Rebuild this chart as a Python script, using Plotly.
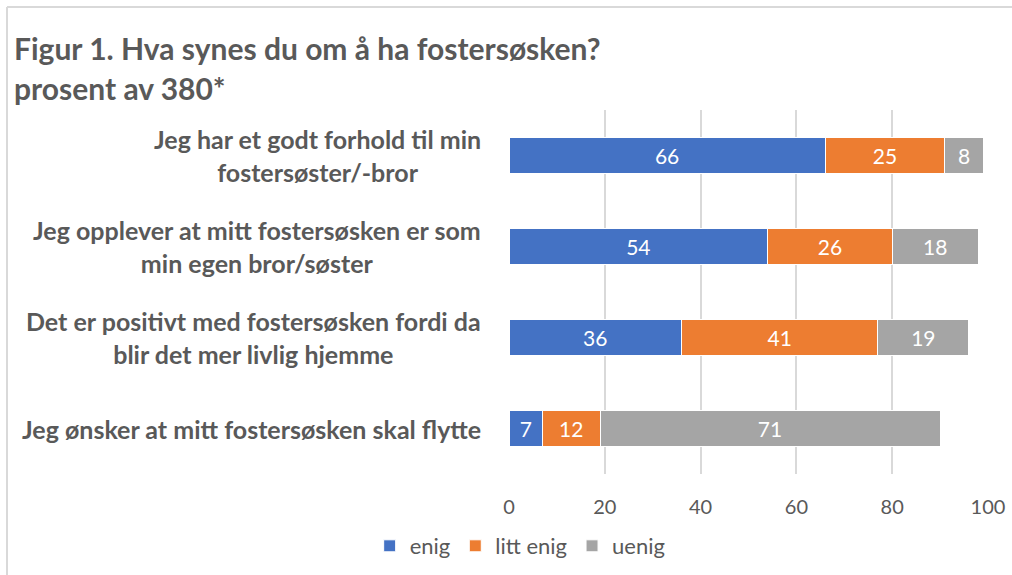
import plotly.graph_objects as go

categories = [
    "Jeg har et godt forhold til min<br>fostersøster/-bror",
    "Jeg opplever at mitt fostersøsken er som<br>min egen bror/søster",
    "Det er positivt med fostersøsken fordi da<br>blir det mer livlig hjemme",
    "Jeg ønsker at mitt fostersøsken skal flytte",
]
enig = [66, 54, 36, 7]
litt_enig = [25, 26, 41, 12]
uenig = [8, 18, 19, 71]
series_names = ["enig", "litt enig", "uenig"]
colors = ["#4472C4", "#ED7D31", "#A5A5A5"]
x_ticks = [0, 20, 40, 60, 80, 100]
title_lines = ["Figur 1. Hva synes du om å ha fostersøsken?", "prosent av 380*"]

FONT = "Lato"
TXT = "#595959"

# plot-area geometry in pixels
W, H = 1012, 575
L, R, T, B = 509, 24, 110, 101
pw, ph = W - L - R, H - T - B


def px_x(x):
    return (x - L) / pw


def px_y(y):
    return (H - B - y) / ph


fig = go.Figure()
for name, vals, col in zip(series_names, [enig, litt_enig, uenig], colors):
    fig.add_trace(go.Bar(
        y=categories, x=vals, name=name, orientation="h",
        marker=dict(color=col, line=dict(color="#ffffff", width=1)),
        text=vals, texttemplate="%{text}", textposition="inside",
        insidetextanchor="middle", textangle=0, constraintext="none",
        textfont=dict(family=FONT, size=21, color="#ffffff"),
        hoverinfo="skip",
    ))

annotations = []
for cat in categories:
    annotations.append(dict(
        x=px_x(483), xref="paper", y=cat, yref="y",
        text=cat, showarrow=False, xanchor="right", yanchor="middle",
        align="center", font=dict(family=FONT, size=25, color=TXT, weight="bold"),
    ))
for line, ypix in zip(title_lines, [48, 88]):
    annotations.append(dict(
        x=px_x(12), xref="paper", y=px_y(ypix), yref="paper",
        text=line, showarrow=False, xanchor="left", yanchor="middle",
        font=dict(family=FONT, size=30, color=TXT, weight="bold"),
    ))

shapes = [
    dict(type="line", xref="paper", yref="paper", x0=px_x(7), x1=px_x(W + 5),
         y0=px_y(7), y1=px_y(7), layer="above", line=dict(color="#D9D9D9", width=2)),
    dict(type="line", xref="paper", yref="paper", x0=px_x(7), x1=px_x(7),
         y0=px_y(7), y1=px_y(H + 5), layer="above", line=dict(color="#D9D9D9", width=2)),
]

fig.update_layout(
    width=W, height=H,
    margin=dict(l=L, r=R, t=T, b=B, pad=0, autoexpand=False),
    barmode="stack", bargap=0.6,
    plot_bgcolor="#ffffff", paper_bgcolor="#ffffff",
    font=dict(family=FONT, color=TXT),
    xaxis=dict(range=[0, 100], tickvals=x_ticks, showgrid=True,
               gridcolor="#D9D9D9", gridwidth=1.5, zeroline=False,
               showline=False, ticks="", ticklabelstandoff=19, automargin=False,
               tickfont=dict(family=FONT, size=20, color=TXT), fixedrange=True),
    yaxis=dict(categoryorder="array", categoryarray=categories,
               autorange="reversed", showticklabels=False, showgrid=False,
               zeroline=False, showline=False, ticks="", automargin=False),
    legend=dict(orientation="h", xref="container", yref="container",
                x=0.514, y=(H - 546) / H, xanchor="center", yanchor="middle",
                font=dict(family=FONT, size=22, color=TXT),
                itemwidth=30, traceorder="normal"),
    annotations=annotations, shapes=shapes,
    showlegend=True,
)

fig.write_html(
    "out.html",
    config={"displayModeBar": False},
    post_script="document.body.style.margin='0';document.body.style.overflow='hidden';",
)
